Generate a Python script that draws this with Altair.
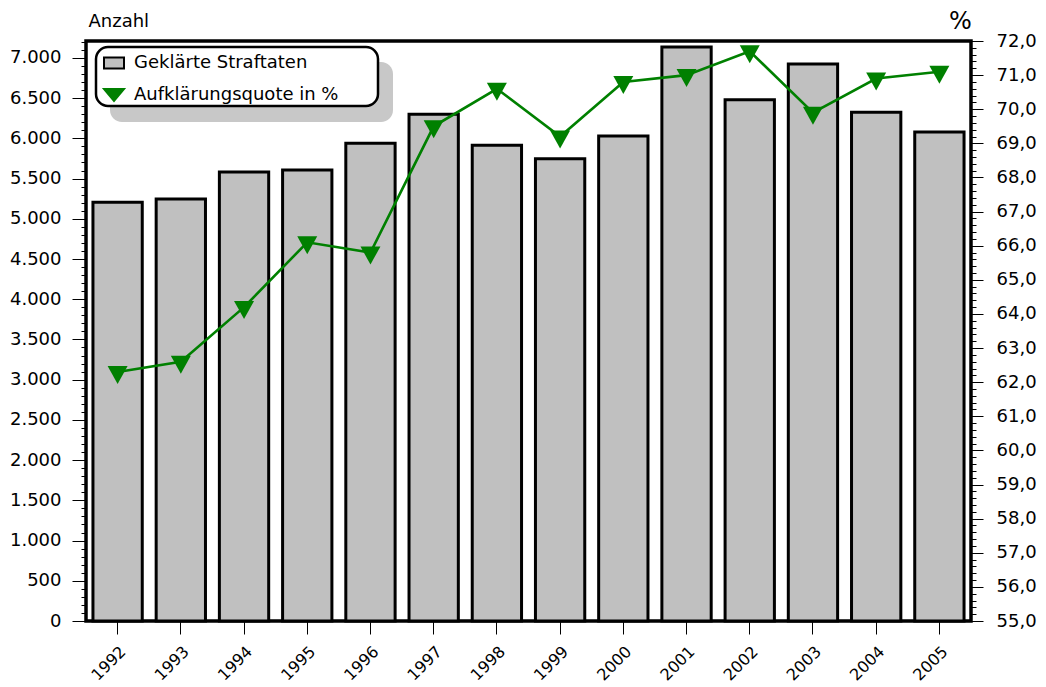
import altair as alt
import pandas as pd

years = ["1992", "1993", "1994", "1995", "1996", "1997", "1998",
         "1999", "2000", "2001", "2002", "2003", "2004", "2005"]
anzahl = [5205, 5245, 5580, 5605, 5940, 6300, 5915,
          5745, 6030, 7135, 6480, 6925, 6325, 6080]
quote = [62.3, 62.6, 64.2, 66.1, 65.8, 69.5, 70.6,
         69.2, 70.8, 71.0, 71.7, 69.9, 70.9, 71.1]

left_ticks = list(range(0, 7001, 500))
left_minor = list(range(0, 7201, 100))
right_ticks = list(range(55, 73))
right_minor = [round(55 + 0.2 * i, 1) for i in range(86)]
series = ["Geklärte Straftaten", "Aufklärungsquote in %"]

FONT = "DejaVu Sans"
GREEN = "#008000"
TRI = "M-1,-0.6L1,-0.6L0,1.2Z"
TRI_LEG = "M-1,-0.6L1,-0.6L0,0.6Z"
SQ = "M-1,-0.55L1,-0.55L1,0.55L-1,0.55Z"

df = pd.DataFrame({"Jahr": years, "Anzahl": anzahl, "Quote": quote})
legdf = pd.DataFrame({"Serie": series})

x_enc = alt.X(
    "Jahr:O", sort=years, title=None,
    scale=alt.Scale(paddingInner=0.22, paddingOuter=0.11),
    axis=alt.Axis(labelAngle=-45, labelAlign="right", labelBaseline="top",
                  labelPadding=9, tickSize=13, domain=False, grid=False,
                  labelFontSize=16),
)

left_scale = alt.Scale(domain=[0, 7210], nice=False, zero=True)
right_scale = alt.Scale(domain=[55, 72], nice=False, zero=False)

bars = alt.Chart(df).mark_bar(fill="#c0c0c0", stroke="black", strokeWidth=3).encode(
    x=x_enc,
    y=alt.Y("Anzahl:Q", scale=left_scale,
            axis=alt.Axis(orient="left", values=left_ticks, tickSize=14, labelPadding=11,
                          labelExpr="replace(format(datum.value, ','), ',', '.')",
                          title="Anzahl", titleAngle=0, titleX=2, titleY=-15,
                          titleAlign="left", titleBaseline="alphabetic",
                          domain=False, grid=False)),
)

minor_left = alt.Chart(df).mark_point(opacity=0).encode(
    x=x_enc,
    y=alt.Y("Anzahl:Q", scale=left_scale,
            axis=alt.Axis(orient="left", values=left_minor, tickSize=5, labels=False,
                          title=None, domain=False, grid=False)),
)

line = alt.Chart(df).mark_line(
    color=GREEN, strokeWidth=2.6,
    point=alt.OverlayMarkDef(shape=TRI, filled=True, size=400, color=GREEN, opacity=1),
).encode(
    x=x_enc,
    y=alt.Y("Quote:Q", scale=right_scale,
            axis=alt.Axis(orient="right", values=right_ticks, tickSize=12, labelPadding=13,
                          labelExpr="replace(format(datum.value, '.1f'), '.', ',')",
                          title="%", titleAngle=0, titleX=-11, titleY=-13,
                          titleAlign="center", titleBaseline="alphabetic", titleFontSize=24,
                          domain=False, grid=False)),
)

minor_right = alt.Chart(df).mark_point(opacity=0).encode(
    x=x_enc,
    y=alt.Y("Quote:Q", scale=right_scale,
            axis=alt.Axis(orient="right", values=right_minor, tickSize=5, labels=False,
                          title=None, domain=False, grid=False)),
)

box_data = alt.Data(values=[{"k": 1}])
shadow = alt.Chart(box_data).mark_rect(fill="#c8c8c8", cornerRadius=12).encode(
    x=alt.value(24), x2=alt.value(307), y=alt.value(21), y2=alt.value(81)
)
box = alt.Chart(box_data).mark_rect(fill="white", stroke="black", strokeWidth=2.5,
                                    cornerRadius=12).encode(
    x=alt.value(10), x2=alt.value(292), y=alt.value(6), y2=alt.value(65)
)

leg_def = alt.Legend(orient="none", legendX=17, legendY=11, padding=0, title=None,
                     labelOffset=9, rowPadding=11, labelFontSize=18, labelFont=FONT,
                     labelColor="black", symbolSize=400, symbolStrokeWidth=2,
                     symbolOpacity=1, labelLimit=0)
leg = alt.Chart(legdf).mark_point(filled=True, opacity=0, size=400, strokeWidth=2).encode(
    color=alt.Color("Serie:N", sort=series,
                    scale=alt.Scale(domain=series, range=["#c0c0c0", GREEN]), legend=leg_def),
    shape=alt.Shape("Serie:N", sort=series,
                    scale=alt.Scale(domain=series, range=[SQ, TRI_LEG]), legend=leg_def),
    stroke=alt.Stroke("Serie:N", sort=series,
                      scale=alt.Scale(domain=series, range=["black", GREEN]), legend=leg_def),
)

chart = alt.layer(bars, minor_left, line, minor_right, shadow, box, leg).resolve_scale(
    y="independent"
).properties(
    width=885, height=580,
    autosize=alt.AutoSizeParams(type="none"),
    padding={"left": 78, "top": 33, "right": 66, "bottom": 64},
).configure_view(
    stroke="black", strokeWidth=3.5
).configure_axis(
    labelFont=FONT, labelFontSize=18, labelColor="black",
    titleFont=FONT, titleFontSize=18, titleFontWeight="normal", titleColor="black",
    tickColor="black", tickWidth=1, grid=False,
)

chart.save("out.html", embed_options={"renderer": "svg", "actions": False})
